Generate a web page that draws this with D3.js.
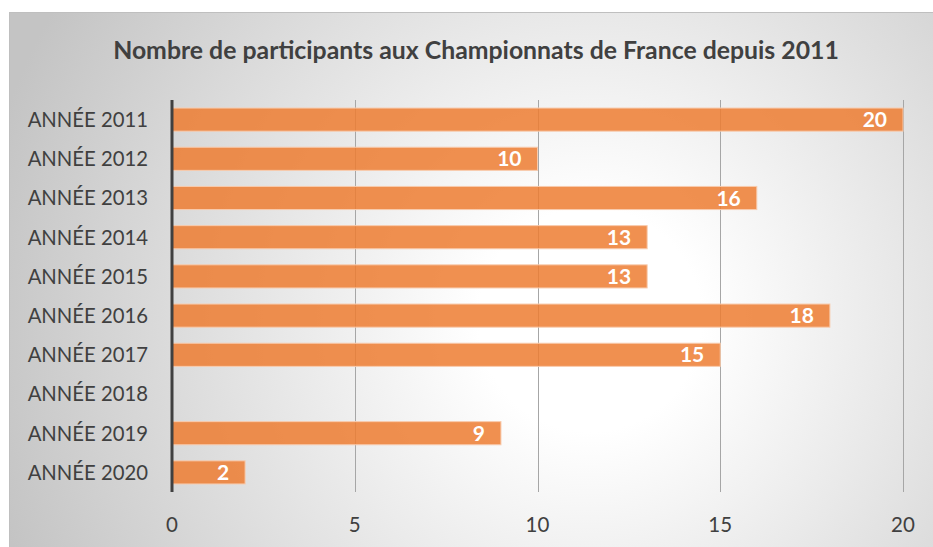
<!DOCTYPE html>
<html>
<head>
<meta charset="utf-8">
<script src="https://cdn.jsdelivr.net/npm/d3@7"></script>
<style>
  body { margin: 0; background: #fff; }
  text { font-family: Lato, "Open Sans", sans-serif; }
</style>
</head>
<body>
<svg width="933" height="547"></svg>
<script>
// données
var annees = ["ANNÉE 2011", "ANNÉE 2012", "ANNÉE 2013", "ANNÉE 2014", "ANNÉE 2015",
              "ANNÉE 2016", "ANNÉE 2017", "ANNÉE 2018", "ANNÉE 2019", "ANNÉE 2020"];
var participants = [20, 10, 16, 13, 13, 18, 15, 0, 9, 2];
var graduations = [0, 5, 10, 15, 20];
var titre = "Nombre de participants aux Championnats de France depuis 2011";

var svg = d3.select("svg"),
    margin = {top: 100, right: 30, bottom: 55, left: 172},
    width = 903 - margin.left,
    height = 492 - margin.top;

// fond en dégradé radial
var defs = svg.append("defs");
var grad = defs.append("radialGradient")
    .attr("id", "fond")
    .attr("gradientUnits", "userSpaceOnUse")
    .attr("cx", 590).attr("cy", 320).attr("r", 620);
grad.append("stop").attr("offset", "0%").attr("stop-color", "#ffffff");
grad.append("stop").attr("offset", "18%").attr("stop-color", "#ffffff");
grad.append("stop").attr("offset", "100%").attr("stop-color", "#c4c4c4");

svg.append("rect")
    .attr("x", 9.5).attr("y", 12.5)
    .attr("width", 940).attr("height", 560)
    .attr("fill", "url(#fond)")
    .attr("stroke", "#bfbfbf")
    .attr("stroke-width", 1);

var g = svg.append("g").attr("transform", "translate(" + margin.left + "," + margin.top + ")");

var x = d3.scaleLinear().domain([0, 20]).range([0, width]);
var y = d3.scaleBand().domain(annees).range([0, height]).paddingInner(0.41).paddingOuter(0.205);

// titre
svg.append("text")
    .attr("x", 476).attr("y", 59)
    .attr("text-anchor", "middle")
    .attr("font-size", 24.8)
    .attr("font-weight", "bold")
    .attr("fill", "#404040")
    .text(titre);

// quadrillage vertical
g.selectAll(".grille")
    .data(graduations.slice(1))
    .enter().append("line")
    .attr("x1", function(d) { return Math.round(x(d)) + 0.5; })
    .attr("x2", function(d) { return Math.round(x(d)) + 0.5; })
    .attr("y1", 0).attr("y2", height)
    .attr("stroke", "#a6a6a6")
    .attr("stroke-width", 1);

// barres
var donnees = annees.map(function(a, i) { return {annee: a, val: participants[i]}; })
    .filter(function(d) { return d.val > 0; });

var barres = g.selectAll(".barre")
    .data(donnees)
    .enter().append("g");

barres.append("rect")
    .attr("x", 0)
    .attr("y", function(d) { return y(d.annee); })
    .attr("height", y.bandwidth())
    .attr("width", function(d) { return x(d.val); })
    .attr("fill", "#ed7d31")
    .attr("fill-opacity", 0.85)
    .attr("stroke", "#f8cbad")
    .attr("stroke-width", 1);

barres.append("text")
    .attr("x", function(d) { return x(d.val) - 16; })
    .attr("y", function(d) { return y(d.annee) + y.bandwidth() / 2; })
    .attr("dy", "0.36em")
    .attr("text-anchor", "end")
    .attr("font-size", 21)
    .attr("font-weight", "bold")
    .attr("fill", "#ffffff")
    .text(function(d) { return d.val; });

// axe vertical
g.append("line")
    .attr("x1", 0).attr("x2", 0)
    .attr("y1", 0).attr("y2", height)
    .attr("stroke", "#404040")
    .attr("stroke-width", 3);

// libellés des catégories
g.selectAll(".cat")
    .data(annees)
    .enter().append("text")
    .attr("x", -24)
    .attr("y", function(d) { return y(d) + y.bandwidth() / 2; })
    .attr("dy", "0.36em")
    .attr("text-anchor", "end")
    .attr("font-size", 20.3)
    .attr("fill", "#404040")
    .text(function(d) { return d; });

// graduations
g.selectAll(".tick-lbl")
    .data(graduations)
    .enter().append("text")
    .attr("x", function(d) { return x(d); })
    .attr("y", height + 40)
    .attr("text-anchor", "middle")
    .attr("font-size", 20.5)
    .attr("fill", "#404040")
    .text(function(d) { return d; });
</script>
</body>
</html>
